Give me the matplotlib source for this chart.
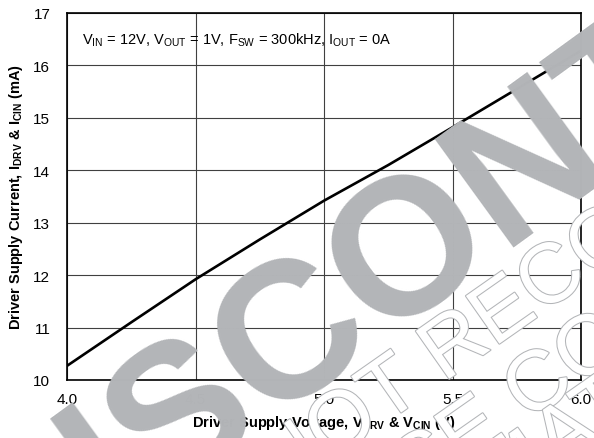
import matplotlib
matplotlib.use("Agg")
import matplotlib.pyplot as plt
import matplotlib.patheffects as pe

plt.rcParams['font.family'] = ['Liberation Sans', 'DejaVu Sans']
plt.rcParams['mathtext.fontset'] = 'custom'
plt.rcParams['mathtext.rm'] = 'Liberation Sans'
plt.rcParams['mathtext.bf'] = 'Liberation Sans:bold'

# driver supply voltage (V) vs driver supply current (mA)
vdrv = [4.0, 4.25, 4.5, 4.75, 5.0, 5.25, 5.5, 5.75, 6.0]
icc = [10.27, 11.10, 11.92, 12.68, 13.42, 14.10, 14.82, 15.55, 16.28]

xticks = [4.0, 4.5, 5.0, 5.5, 6.0]
yticks = [10, 11, 12, 13, 14, 15, 16, 17]

W, H = 594, 439
fig = plt.figure(figsize=(W / 100, H / 100), dpi=100)
ax = fig.add_axes([67 / W, 1 - 381 / H, (581 - 67) / W, (381 - 14) / H])

ax.plot(vdrv, icc, color='black', lw=1.9, solid_capstyle='butt', zorder=3)
ax.set_xlim(4.0, 6.0)
ax.set_ylim(10, 17)
ax.set_xticks(xticks)
ax.set_xticklabels([f"{v:.1f}" for v in xticks])
ax.set_yticks(yticks)
ax.tick_params(length=0, labelsize=11)
ax.tick_params(axis='y', pad=12)
ax.tick_params(axis='x', pad=9)
ax.grid(True, color='#404040', lw=0.8)
for s in ax.spines.values():
    s.set_linewidth(1.2)

ax.set_ylabel(r'Driver Supply Current, I$_{\mathbf{DRV}}$ & I$_{\mathbf{CIN}}$ (mA)',
              fontsize=10.5, fontweight='bold', labelpad=6)
ax.set_xlabel(r'Driver Supply Voltage, V$_{\mathbf{DRV}}$ & V$_{\mathbf{CIN}}$ (V)',
              fontsize=10.5, fontweight='bold', labelpad=5)

ax.text((82 - 67) / 514, 1 - 26 / 367,
        r'V$_{\mathrm{IN}}$ = 12V, V$_{\mathrm{OUT}}$ = 1V, F$_{\mathrm{SW}}$ = 300kHz, I$_{\mathrm{OUT}}$ = 0A',
        transform=ax.transAxes, fontsize=10.5, ha='left', va='center', zorder=4)

# watermark
wm = '#b3b5b8'
outline = [pe.withStroke(linewidth=1.5, foreground=wm)]
for txt, px, py in [("NOT RECOMMENDED FOR NEW DESIGNS", 279, 499),
                    ("PLEASE CONTACT", 238, 626),
                    ("INFORMATION", 283, 664)]:
    fig.text(px / W, 1 - py / H, txt, fontsize=61, color='white', rotation=35,
             rotation_mode='anchor', ha='left', va='baseline', path_effects=outline)

fig.text(602 / W, 1 - 174 / H, "DISCONTINUED", fontsize=140, fontweight='bold',
         color=wm, rotation=36, rotation_mode='anchor', ha='center', va='baseline')

fig.savefig("out.png", dpi=100)
